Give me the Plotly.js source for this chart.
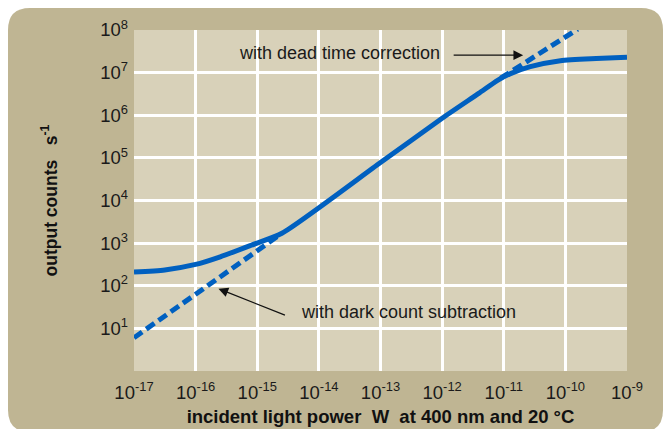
<!DOCTYPE html>
<html>
<head>
<meta charset="utf-8">
<script src="https://cdn.plot.ly/plotly-3.0.1.min.js"></script>
<style>html,body{margin:0;padding:0;background:#fff;}#chart{width:663px;height:429px;}</style>
</head>
<body>
<div id="chart"></div>
<script>
// ---- data (log10 values) ----
const measuredLogP = [-17, -16.5, -16.0, -15.6, -15.1, -14.6, -13.0, -12.0, -11.4, -11.1, -10.9, -10.57, -10.08, -9.5, -9.0];
const measuredLogC = [2.32, 2.37, 2.50, 2.68, 2.95, 3.23, 4.89, 5.93, 6.52, 6.82, 6.97, 7.14, 7.28, 7.33, 7.36];
const darkCorrLogP = [-17, -14.65];
const darkCorrLogC = [0.78, 3.18];
const deadCorrLogP = [-11.05, -9.8];
const deadCorrLogC = [6.87, 8.02];
const xExponents = [-17, -16, -15, -14, -13, -12, -11, -10, -9];
const yExponents = [1, 2, 3, 4, 5, 6, 7, 8];
const xGridExponents = [-16, -15, -14, -13, -12, -11, -10];
const yGridExponents = [1, 2, 3, 4, 5, 6, 7];

const pow10 = a => a.map(v => Math.pow(10, v));
const blue = '#0060c0';
const font = 'Liberation Sans, Arial, sans-serif';

const traces = [
  {x: pow10(darkCorrLogP), y: pow10(darkCorrLogC), mode: 'lines', line: {color: blue, width: 5, dash: '10px,5px'}, hoverinfo: 'skip'},
  {x: pow10(deadCorrLogP), y: pow10(deadCorrLogC), mode: 'lines', line: {color: blue, width: 5, dash: '10px,5px'}, hoverinfo: 'skip'},
  {x: pow10(measuredLogP), y: pow10(measuredLogC), mode: 'lines', line: {color: blue, width: 5, shape: 'spline', smoothing: 0.6}, hoverinfo: 'skip'},
  {x: [1e-13], y: [1e4], xaxis: 'x2', yaxis: 'y2', mode: 'markers', marker: {opacity: 0}, hoverinfo: 'skip'}
];

// plot area in pixels
const L = 134, R = 627, T = 30, B = 371, W = 663, H = 429;
const px = x => (x - L) / (R - L);
const py = y => (B - y) / (B - T);
function roundRect(x0, y0, x1, y1, r) {
  const p = (x, y) => px(x) + ',' + py(y);
  return 'M' + p(x0 + r, y0) + ' L' + p(x1 - r, y0) + ' Q' + p(x1, y0) + ' ' + p(x1, y0 + r) +
    ' L' + p(x1, y1 - r) + ' Q' + p(x1, y1) + ' ' + p(x1 - r, y1) +
    ' L' + p(x0 + r, y1) + ' Q' + p(x0, y1) + ' ' + p(x0, y1 - r) +
    ' L' + p(x0, y0 + r) + ' Q' + p(x0, y0) + ' ' + p(x0 + r, y0) + ' Z';
}

const tickFont = {size: 18.5, family: font, color: '#1a1a1a'};
const layout = {
  width: W, height: H,
  margin: {l: L, r: W - R, t: T, b: H - B, pad: 0},
  paper_bgcolor: '#ffffff',
  plot_bgcolor: 'rgba(0,0,0,0)',
  showlegend: false,
  font: {family: font, color: '#1a1a1a'},
  xaxis: {
    type: 'log', range: [-17, -9],
    tickmode: 'array', tickvals: pow10(xExponents),
    ticktext: xExponents.map(e => '10<sup>' + e + '</sup>'),
    tickfont: tickFont,
    showgrid: false, zeroline: false, showline: false, ticks: '',
    ticklabelstandoff: 8,
    title: {text: 'incident light power  W  at 400 nm and 20 °C', font: {size: 18.5, family: font, color: '#111', weight: 'bold'}, standoff: 8}
  },
  yaxis: {
    type: 'log', range: [0, 8],
    tickmode: 'array', tickvals: pow10(yExponents),
    ticktext: yExponents.map(e => '10<sup>' + e + '</sup>'),
    tickfont: tickFont,
    showgrid: false, zeroline: false, showline: false, ticks: '',
    ticklabelstandoff: 5,
    title: {text: 'output counts   s<sup>-1</sup>', font: {size: 17.5, family: font, color: '#111', weight: 'bold'}, standoff: 38}
  },
  xaxis2: {
    type: 'log', range: [-17, -9], overlaying: 'x', anchor: 'y2',
    tickmode: 'array', tickvals: pow10(xGridExponents), showticklabels: false,
    showgrid: true, gridcolor: '#ffffff', gridwidth: 3, zeroline: false, showline: false, ticks: ''
  },
  yaxis2: {
    type: 'log', range: [0, 8], overlaying: 'y', anchor: 'x2',
    tickmode: 'array', tickvals: pow10(yGridExponents), showticklabels: false,
    showgrid: true, gridcolor: '#ffffff', gridwidth: 3, zeroline: false, showline: false, ticks: ''
  },
  shapes: [
    {type: 'path', xref: 'paper', yref: 'paper', layer: 'below', path: roundRect(8, 8, 663, 432, 22), fillcolor: '#bfb593', line: {width: 0}},
    {type: 'rect', xref: 'paper', yref: 'paper', layer: 'below', x0: 0, x1: 1, y0: 0, y1: 1, fillcolor: '#d8d1b9', line: {width: 0}}
  ],
  annotations: [
    {x: -13.67, y: 7.47, xref: 'x', yref: 'y', text: 'with dead time correction', showarrow: false, font: {size: 18, family: font, color: '#1a1a1a'}},
    {x: -10.685, y: 7.41, xref: 'x', yref: 'y', text: '', showarrow: true, arrowhead: 2, arrowsize: 1.5, arrowwidth: 1.3, arrowcolor: '#111', ax: -71, ay: 0, standoff: 0},
    {x: -12.54, y: 1.38, xref: 'x', yref: 'y', text: 'with dark count subtraction', showarrow: false, font: {size: 18, family: font, color: '#1a1a1a'}},
    {x: -15.63, y: 1.93, xref: 'x', yref: 'y', text: '', showarrow: true, arrowhead: 2, arrowsize: 1.5, arrowwidth: 1.3, arrowcolor: '#111', ax: 68, ay: 27, standoff: 0}
  ]
};

Plotly.newPlot('chart', traces, layout, {displayModeBar: false, staticPlot: true});
</script>
</body>
</html>
